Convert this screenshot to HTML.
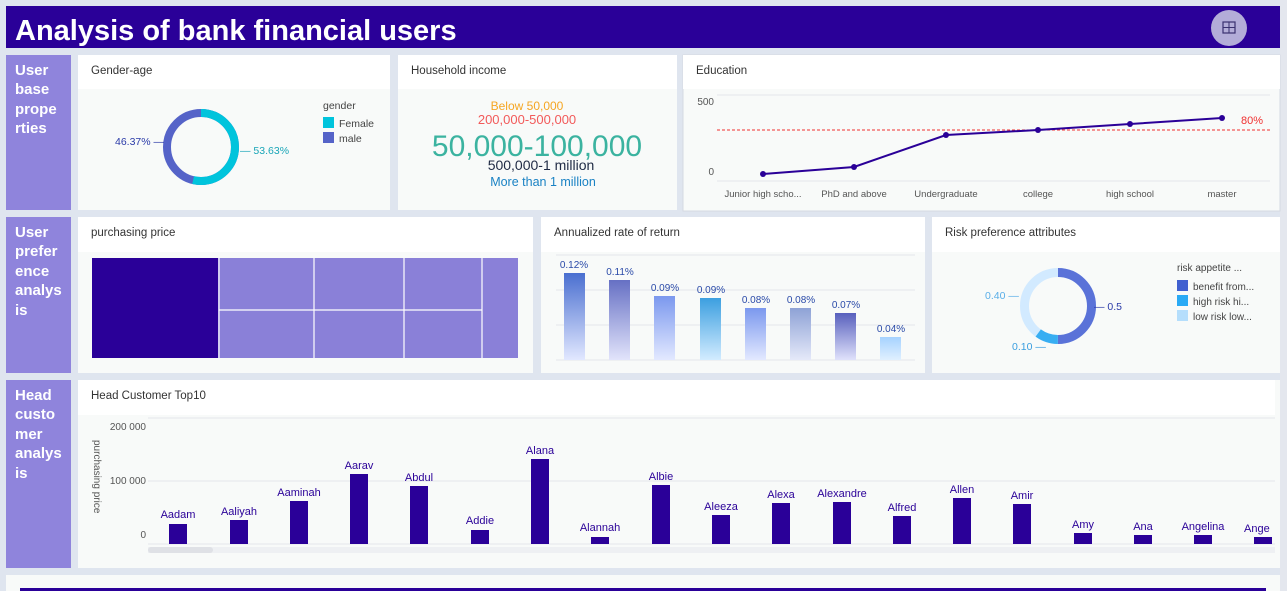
<!DOCTYPE html>
<html><head><meta charset="utf-8"><style>
html,body{margin:0;padding:0;width:1287px;height:591px;overflow:hidden;background:#dfe5ef;font-family:"Liberation Sans",sans-serif}
svg{display:block}
</style></head><body>
<svg width="1287" height="591" viewBox="0 0 1287 591" font-family="Liberation Sans, sans-serif">
<defs>
<linearGradient id="g1" x1="0" y1="0" x2="0" y2="1"><stop offset="0" stop-color="#4a6fd0"/><stop offset="1" stop-color="#e2e8ff"/></linearGradient>
<linearGradient id="g2" x1="0" y1="0" x2="0" y2="1"><stop offset="0" stop-color="#6670c4"/><stop offset="1" stop-color="#e2e4fb"/></linearGradient>
<linearGradient id="g3" x1="0" y1="0" x2="0" y2="1"><stop offset="0" stop-color="#7b98ee"/><stop offset="1" stop-color="#e3e9ff"/></linearGradient>
<linearGradient id="g4" x1="0" y1="0" x2="0" y2="1"><stop offset="0" stop-color="#3c9fe0"/><stop offset="1" stop-color="#d3ecff"/></linearGradient>
<linearGradient id="g6" x1="0" y1="0" x2="0" y2="1"><stop offset="0" stop-color="#8ea2d6"/><stop offset="1" stop-color="#e5e9f9"/></linearGradient>
<linearGradient id="g7" x1="0" y1="0" x2="0" y2="1"><stop offset="0" stop-color="#5860bd"/><stop offset="1" stop-color="#e0e2fb"/></linearGradient>
<linearGradient id="g8" x1="0" y1="0" x2="0" y2="1"><stop offset="0" stop-color="#a6d2ff"/><stop offset="1" stop-color="#e0f0ff"/></linearGradient>
</defs>
<rect x="6" y="6" width="1274" height="42" fill="#2a0098"/>
<text x="15" y="40" font-size="29" font-weight="bold" fill="#fff">Analysis of bank financial users</text>
<circle cx="1229" cy="28" r="18" fill="#b3acd8"/>
<rect x="1223" y="22" width="12" height="11" fill="none" stroke="#3a3070" stroke-width="1.2"/>
<path d="M1229 22v11M1223 27.5h12" stroke="#3a3070" stroke-width="1"/>
<rect x="1280" y="0" width="7" height="591" fill="#e4e7ee"/>

<rect x="6" y="55" width="65" height="155" fill="#8f84dc"/>
<rect x="6" y="217" width="65" height="156" fill="#8f84dc"/>
<rect x="6" y="380" width="65" height="188" fill="#8f84dc"/>
<g fill="#fff" font-size="15" font-weight="bold">
<text x="15" y="75">User</text><text x="15" y="94">base</text><text x="15" y="114">prope</text><text x="15" y="133">rties</text>
<text x="15" y="237">User</text><text x="15" y="256">prefer</text><text x="15" y="276">ence</text><text x="15" y="295">analys</text><text x="15" y="315">is</text>
<text x="15" y="400">Head</text><text x="15" y="419">custo</text><text x="15" y="439">mer</text><text x="15" y="458">analys</text><text x="15" y="478">is</text>
</g>

<g>
<rect x="78" y="55" width="312" height="155" fill="#f8faf9"/><rect x="78" y="55" width="312" height="34" fill="#fff"/>
<rect x="398" y="55" width="279" height="155" fill="#f8faf9"/><rect x="398" y="55" width="279" height="34" fill="#fff"/>
<rect x="683" y="55" width="597" height="156" fill="#f8faf9" stroke="#d5d9e2"/><rect x="683" y="55" width="597" height="34" fill="#fff"/>
<rect x="78" y="217" width="455" height="156" fill="#f8faf9"/><rect x="78" y="217" width="455" height="35" fill="#fff"/>
<rect x="541" y="217" width="384" height="156" fill="#f8faf9"/><rect x="541" y="217" width="384" height="35" fill="#fff"/>
<rect x="932" y="217" width="348" height="156" fill="#f8faf9"/><rect x="932" y="217" width="348" height="35" fill="#fff"/>
<rect x="78" y="380" width="1202" height="188" fill="#f8faf9"/><rect x="78" y="380" width="1202" height="35" fill="#fff"/>
<rect x="6" y="575" width="1274" height="16" fill="#f8faf9"/>
<rect x="20" y="588" width="1246" height="3" fill="#2a0098"/>
</g>
<g font-size="11.5" fill="#333">
<text x="91" y="74">Gender-age</text>
<text x="411" y="74">Household income</text>
<text x="696" y="74">Education</text>
<text x="91" y="236">purchasing price</text>
<text x="554" y="236">Annualized rate of return</text>
<text x="945" y="236">Risk preference attributes</text>
<text x="91" y="399">Head Customer Top10</text>
</g>

<circle cx="201" cy="147" r="34" fill="none" stroke="#5563c8" stroke-width="8"/>
<circle cx="201" cy="147" r="34" fill="none" stroke="#00c4dc" stroke-width="8" stroke-dasharray="114.6 300" transform="rotate(-90 201 147)"/>
<text x="115" y="145" font-size="10.5" fill="#2a3aa8">46.37% —</text>
<text x="240" y="154" font-size="10.5" fill="#1aa6b8">— 53.63%</text>
<text x="323" y="109" font-size="10.5" fill="#444">gender</text>
<rect x="323" y="117" width="11" height="11" fill="#00c4dc"/><text x="339" y="127" font-size="10.5" fill="#444">Female</text>
<rect x="323" y="132" width="11" height="11" fill="#5563c8"/><text x="339" y="142" font-size="10.5" fill="#444">male</text>

<g text-anchor="middle">
<text x="527" y="110" font-size="12" fill="#f5a623">Below 50,000</text>
<text x="527" y="124" font-size="13" fill="#f25a5a">200,000-500,000</text>
<text x="537" y="156" font-size="30" fill="#3bb3a0">50,000-100,000</text>
<text x="541" y="170" font-size="14" fill="#1f2a44">500,000-1 million</text>
<text x="543" y="186" font-size="12.5" fill="#1a82c4">More than 1 million</text>
</g>

<line x1="717" y1="95" x2="1270" y2="95" stroke="#e3e6ea"/>
<line x1="717" y1="181" x2="1270" y2="181" stroke="#e3e6ea"/>
<text x="714" y="105" font-size="10" fill="#555" text-anchor="end">500</text>
<text x="714" y="175" font-size="10" fill="#555" text-anchor="end">0</text>
<line x1="717" y1="130" x2="1270" y2="130" stroke="#f03030" stroke-dasharray="3 2"/>
<text x="1241" y="124" font-size="11" fill="#f03030">80%</text>
<polyline points="763,174 854,167 946,135 1038,130 1130,124 1222,118" fill="none" stroke="#2a0098" stroke-width="2"/>
<g fill="#2a0098"><circle cx="763" cy="174" r="3"/><circle cx="854" cy="167" r="3"/><circle cx="946" cy="135" r="3"/><circle cx="1038" cy="130" r="3"/><circle cx="1130" cy="124" r="3"/><circle cx="1222" cy="118" r="3"/></g>
<g font-size="9.5" fill="#555" text-anchor="middle">
<text x="763" y="197">Junior high scho...</text><text x="854" y="197">PhD and above</text><text x="946" y="197">Undergraduate</text><text x="1038" y="197">college</text><text x="1130" y="197">high school</text><text x="1222" y="197">master</text>
</g>

<rect x="92" y="258" width="426" height="100" fill="#8a80d8"/>
<rect x="92" y="258" width="126" height="100" fill="#2a0098"/>
<g stroke="#fff" stroke-width="1.2"><line x1="219" y1="258" x2="219" y2="358"/><line x1="314" y1="258" x2="314" y2="358"/><line x1="404" y1="258" x2="404" y2="358"/><line x1="482" y1="258" x2="482" y2="358"/><line x1="219" y1="310" x2="482" y2="310"/></g>

<g stroke="#e3e6ea"><line x1="556" y1="255" x2="915" y2="255"/><line x1="556" y1="290" x2="915" y2="290"/><line x1="556" y1="325" x2="915" y2="325"/><line x1="556" y1="360" x2="915" y2="360"/></g>
<rect x="564" y="273" width="21" height="87" fill="url(#g1)"/>
<rect x="609" y="280" width="21" height="80" fill="url(#g2)"/>
<rect x="654" y="296" width="21" height="64" fill="url(#g3)"/>
<rect x="700" y="298" width="21" height="62" fill="url(#g4)"/>
<rect x="745" y="308" width="21" height="52" fill="url(#g3)"/>
<rect x="790" y="308" width="21" height="52" fill="url(#g6)"/>
<rect x="835" y="313" width="21" height="47" fill="url(#g7)"/>
<rect x="880" y="337" width="21" height="23" fill="url(#g8)"/>
<g font-size="10" fill="#2a4aa8" text-anchor="middle">
<text x="574" y="268">0.12%</text><text x="620" y="275">0.11%</text><text x="665" y="291">0.09%</text><text x="711" y="293">0.09%</text><text x="756" y="303">0.08%</text><text x="801" y="303">0.08%</text><text x="846" y="308">0.07%</text><text x="891" y="332">0.04%</text>
</g>

<circle cx="1058" cy="306" r="33.5" fill="none" stroke="#d2eaff" stroke-width="9"/>
<circle cx="1058" cy="306" r="33.5" fill="none" stroke="#5a72d8" stroke-width="9" stroke-dasharray="105.2 300" transform="rotate(-90 1058 306)"/>
<circle cx="1058" cy="306" r="33.5" fill="none" stroke="#38aef2" stroke-width="9" stroke-dasharray="0 105.2 21 300" transform="rotate(-90 1058 306)"/>
<text x="1094" y="310" font-size="10.5" fill="#2a3aa8">— 0.5</text>
<text x="985" y="299" font-size="10.5" fill="#5aaee8">0.40 —</text>
<text x="1012" y="350" font-size="10.5" fill="#3a9ee0">0.10 —</text>
<text x="1177" y="271" font-size="10" fill="#444">risk appetite ...</text>
<rect x="1177" y="280" width="11" height="11" fill="#4060d0"/><text x="1193" y="290" font-size="10" fill="#444">benefit from...</text>
<rect x="1177" y="295" width="11" height="11" fill="#2aaaf5"/><text x="1193" y="305" font-size="10" fill="#444">high risk hi...</text>
<rect x="1177" y="310" width="11" height="11" fill="#b5defc"/><text x="1193" y="320" font-size="10" fill="#444">low risk low...</text>

<g stroke="#e3e6ea"><line x1="148" y1="418" x2="1275" y2="418"/><line x1="148" y1="481" x2="1275" y2="481"/><line x1="148" y1="544" x2="1275" y2="544"/></g>
<g font-size="10" fill="#555" text-anchor="end"><text x="146" y="430">200 000</text><text x="146" y="484">100 000</text><text x="146" y="538">0</text></g>
<text transform="translate(94 440) rotate(90)" font-size="10" fill="#555">purchasing price</text>
<rect x="148" y="547" width="1127" height="6" fill="#eef0f3"/>
<rect x="148" y="547" width="65" height="6" rx="3" fill="#dfe1e6"/>
<g fill="#2a0098">
<rect x="169" y="524" width="18" height="20"/><rect x="230" y="520" width="18" height="24"/><rect x="290" y="501" width="18" height="43"/><rect x="350" y="474" width="18" height="70"/><rect x="410" y="486" width="18" height="58"/><rect x="471" y="530" width="18" height="14"/><rect x="531" y="459" width="18" height="85"/><rect x="591" y="537" width="18" height="7"/><rect x="652" y="485" width="18" height="59"/><rect x="712" y="515" width="18" height="29"/><rect x="772" y="503" width="18" height="41"/><rect x="833" y="502" width="18" height="42"/><rect x="893" y="516" width="18" height="28"/><rect x="953" y="498" width="18" height="46"/><rect x="1013" y="504" width="18" height="40"/><rect x="1074" y="533" width="18" height="11"/><rect x="1134" y="535" width="18" height="9"/><rect x="1194" y="535" width="18" height="9"/><rect x="1254" y="537" width="18" height="7"/>
</g>
<g font-size="11" fill="#2a0098" text-anchor="middle">
<text x="178" y="518">Aadam</text><text x="239" y="515">Aaliyah</text><text x="299" y="496">Aaminah</text><text x="359" y="469">Aarav</text><text x="419" y="481">Abdul</text><text x="480" y="524">Addie</text><text x="540" y="454">Alana</text><text x="600" y="531">Alannah</text><text x="661" y="480">Albie</text><text x="721" y="510">Aleeza</text><text x="781" y="498">Alexa</text><text x="842" y="497">Alexandre</text><text x="902" y="511">Alfred</text><text x="962" y="493">Allen</text><text x="1022" y="499">Amir</text><text x="1083" y="528">Amy</text><text x="1143" y="530">Ana</text><text x="1203" y="530">Angelina</text><text x="1244" y="532" text-anchor="start">Ange</text>
</g>
<rect x="1275" y="380" width="5" height="188" fill="#f8faf9"/>
</svg>
</body></html>
